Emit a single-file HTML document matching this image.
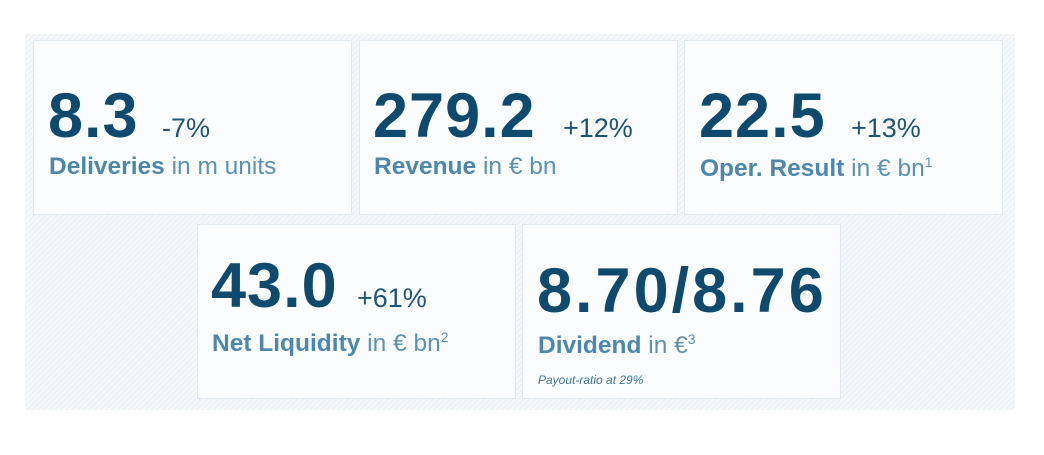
<!DOCTYPE html>
<html><head><meta charset="utf-8"><style>
body{margin:0;width:1044px;height:455px;background:#fff;position:relative;overflow:hidden;font-family:"Liberation Sans",sans-serif}
.bg{position:absolute;left:25px;top:34px;width:990px;height:376px;background:repeating-linear-gradient(135deg,#f6f8fa 0 2px,#eef2f5 2px 4px)}
.box{position:absolute;width:319px;height:175px;background:#fbfcfd;border:1px solid #dfe8ee;box-sizing:border-box}
.n{position:absolute;font-weight:bold;font-size:63px;color:#0d4a6d;line-height:1;letter-spacing:1px}
.p{position:absolute;font-size:27px;color:#1d5578;line-height:1}
.l{position:absolute;font-size:24.5px;color:#5a92b4;line-height:1;white-space:nowrap}
.l b{color:#4d87ab}
sup{font-size:14px;vertical-align:9px}
.i{position:absolute;font-style:italic;font-size:12px;color:#3e779c}
</style></head><body>
<div class="bg"></div>
<div class="box" style="left:33px;top:40px"></div>
<div class="box" style="left:359px;top:40px"></div>
<div class="box" style="left:684px;top:40px"></div>
<div class="box" style="left:197px;top:224px"></div>
<div class="box" style="left:522px;top:224px"></div>

<div class="n" style="left:48px;top:85px">8.3</div>
<div class="p" style="left:162px;top:115px">-7%</div>
<div class="l" style="left:49px;top:155px"><b>Deliveries</b> in m units</div>

<div class="n" style="left:373px;top:85px">279.2</div>
<div class="p" style="left:563px;top:115px">+12%</div>
<div class="l" style="left:374px;top:155px"><b>Revenue</b> in € bn</div>

<div class="n" style="left:699px;top:85px">22.5</div>
<div class="p" style="left:851px;top:115px">+13%</div>
<div class="l" style="left:700px;top:155px"><b>Oper. Result</b> in € bn<sup>1</sup></div>

<div class="n" style="left:211px;top:255px">43.0</div>
<div class="p" style="left:357px;top:285px">+61%</div>
<div class="l" style="left:212px;top:330px"><b>Net Liquidity</b> in € bn<sup>2</sup></div>

<div class="n" style="left:537px;top:260px;letter-spacing:3px">8.70/8.76</div>
<div class="l" style="left:538px;top:332px"><b>Dividend</b> in €<sup>3</sup></div>
<div class="i" style="left:538px;top:373px">Payout-ratio at 29%</div>
</body></html>
